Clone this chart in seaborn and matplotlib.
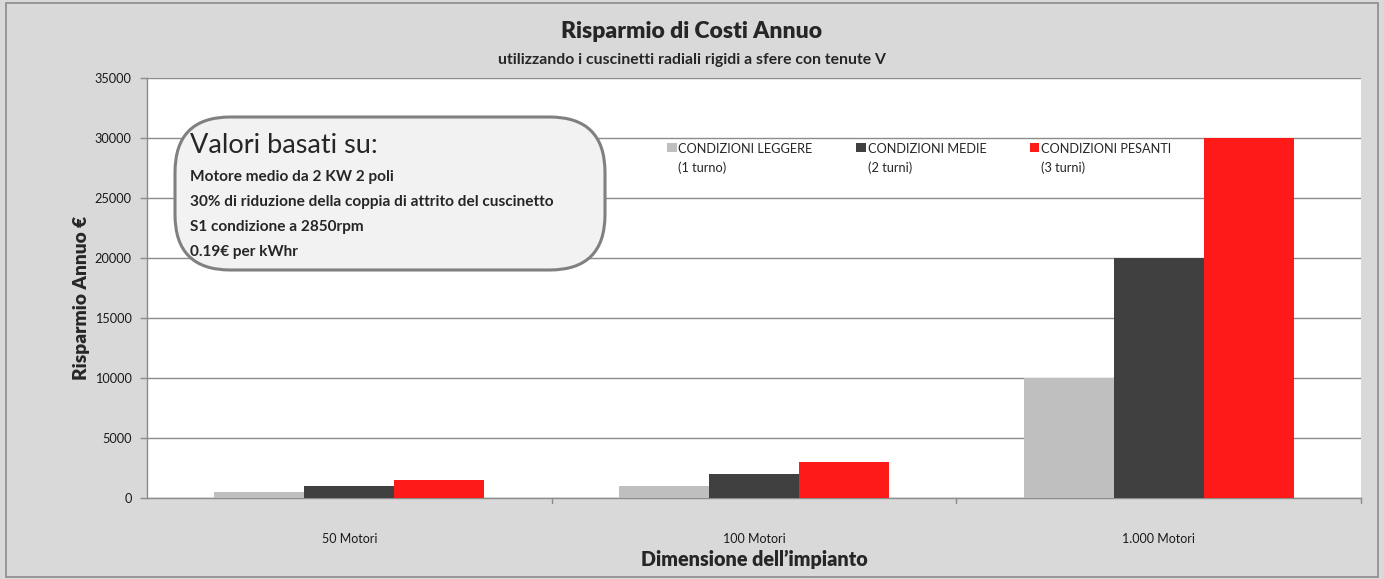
import matplotlib
matplotlib.use("Agg")
import matplotlib.pyplot as plt
import seaborn as sns
import pandas as pd
from matplotlib.patches import FancyBboxPatch, Rectangle

categories = ["50 Motori", "100 Motori", "1.000 Motori"]
series_names = ["CONDIZIONI LEGGERE\n(1 turno)", "CONDIZIONI MEDIE\n(2 turni)", "CONDIZIONI PESANTI\n(3 turni)"]
leggere = [500, 1000, 10000]
medie = [1000, 2000, 20000]
pesanti = [1500, 3000, 30000]
y_ticks = [0, 5000, 10000, 15000, 20000, 25000, 30000, 35000]
colors = ["#bfbfbf", "#404040", "#ff1a1a"]

title = "Risparmio di Costi Annuo"
subtitle = "utilizzando i cuscinetti radiali rigidi a sfere con tenute V"
box_title = "Valori basati su:"
box_lines = ["Motore medio da 2 KW 2 poli",
             "30% di riduzione della coppia di attrito del cuscinetto",
             "S1 condizione a 2850rpm",
             "0.19€ per kWhr"]

df = pd.DataFrame({
    "cat": categories * 3,
    "serie": [series_names[0]] * 3 + [series_names[1]] * 3 + [series_names[2]] * 3,
    "val": leggere + medie + pesanti,
})

sns.set_theme(style="white")
plt.rcParams["font.family"] = ["Lato", "DejaVu Sans"]

W, H = 1384, 579
fig = plt.figure(figsize=(W / 100, H / 100), dpi=100, facecolor="#d9d9d9")
fig.patches.append(Rectangle((0.004, 0.004), 0.992, 0.99, transform=fig.transFigure,
                             fill=False, edgecolor="#8c8c8c", linewidth=1.2))
ax = fig.add_axes([147 / W, 1 - 498 / H, (1361 - 147) / W, (498 - 78) / H])
ax.set_facecolor("white")

sns.barplot(data=df, x="cat", y="val", hue="serie", palette=colors, width=0.667,
            saturation=1, ax=ax, edgecolor="none", linewidth=0, zorder=3)

ax.set_ylim(0, 35000)
ax.set_yticks(y_ticks)
ax.set_yticklabels([str(v) for v in y_ticks], fontsize=9.2, color="#1a1a1a")
ax.set_xlim(-0.5, 2.5)
ax.set_xticks([0, 1, 2])
ax.set_xticklabels(categories, fontsize=9, color="#1a1a1a")
ax.tick_params(axis="x", length=0, pad=25)
ax.tick_params(axis="y", left=True, length=5, width=1, color="#8c8c8c", pad=6)
for xb in [0.5, 1.5, 2.5]:
    ax.plot([xb, xb], [0, -0.012], transform=ax.get_xaxis_transform(), color="#8c8c8c",
            lw=1, clip_on=False)
ax.yaxis.grid(True, color="#8c8c8c", linewidth=1, zorder=0)
ax.set_axisbelow(True)
for s in ["top", "right"]:
    ax.spines[s].set_visible(False)
for s in ["left", "bottom"]:
    ax.spines[s].set_color("#8c8c8c")
    ax.spines[s].set_linewidth(1)

ax.set_xlabel("Dimensione dell\u2019impianto", fontsize=14.2, fontweight="heavy")
ax.xaxis.set_label_coords(0.5, -(559 - 498) / (498 - 78), transform=ax.transAxes)
ax.xaxis.label.set_va("center")
ax.set_ylabel("Risparmio Annuo €", fontsize=13.8, fontweight="heavy")
ax.yaxis.set_label_coords(-(147 - 81) / (1361 - 147), (498 - 298) / (498 - 78), transform=ax.transAxes)
ax.yaxis.label.set_va("center")

fig.text(0.5, 1 - 32 / H, title, ha="center", va="center", fontsize=16.5, fontweight="heavy")
fig.text(0.5, 1 - 60 / H, subtitle, ha="center", va="center", fontsize=11.3, fontweight="bold")

handles, labels = ax.get_legend_handles_labels()
leg = ax.legend(handles, labels, ncol=3, loc="upper left",
                bbox_to_anchor=((667 - 147) / (1361 - 147), (498 - 143) / (498 - 78)),
                frameon=False, fontsize=9.2, handlelength=0.75, handleheight=0.7,
                handletextpad=0.15, columnspacing=3.4, borderpad=0, borderaxespad=0)
for t in leg.get_texts():
    t.set_linespacing(1.6)
for col in leg._legend_handle_box.get_children():
    for item in col.get_children():
        item.align = "top"

box = FancyBboxPatch((175 / W, 1 - 270 / H), (605 - 175) / W, (270 - 117) / H,
                     boxstyle="round,pad=0,rounding_size=0.04", transform=fig.transFigure,
                     facecolor="#f2f2f2", edgecolor="#808080", linewidth=2.2, zorder=5,
                     mutation_aspect=W / H)
fig.patches.append(box)
fig.text(190 / W, 1 - 145 / H, box_title, ha="left", va="center", fontsize=19.5, zorder=6)
for i, line in enumerate(box_lines):
    fig.text(190 / W, 1 - (177 + 25 * i) / H, line, ha="left", va="center",
             fontsize=11.1, fontweight="bold", zorder=6)

fig.savefig("out.png", dpi=100, facecolor=fig.get_facecolor())
